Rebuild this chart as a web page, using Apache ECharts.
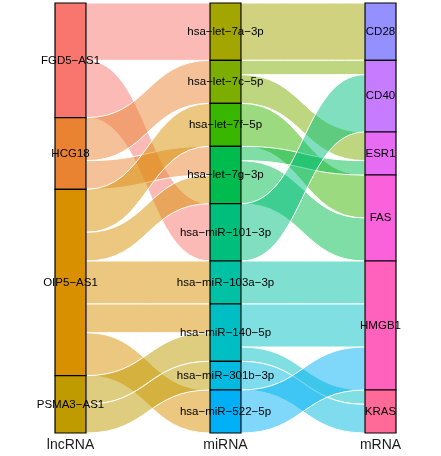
<!DOCTYPE html>
<html>
<head>
<meta charset="utf-8">
<script src="https://cdn.jsdelivr.net/npm/echarts@6/dist/echarts.min.js"></script>
<style>
html,body{margin:0;padding:0;background:#fff;}
#chart{width:441px;height:456px;}
</style>
</head>
<body>
<div id="chart"></div>
<script>
// Axis (column) names
var axisNames = ['lncRNA', 'miRNA', 'mRNA'];

// Strata per axis, top to bottom
var lncRNA = ['FGD5-AS1', 'HCG18', 'OIP5-AS1', 'PSMA3-AS1'];
var miRNA = ['hsa-let-7a-3p', 'hsa-let-7c-5p', 'hsa-let-7f-5p', 'hsa-let-7g-3p',
             'hsa-miR-101-3p', 'hsa-miR-103a-3p', 'hsa-miR-140-5p', 'hsa-miR-301b-3p', 'hsa-miR-522-5p'];
var mRNA = ['CD28', 'CD40', 'ESR1', 'FAS', 'HMGB1', 'KRAS'];

// Flows lncRNA -> miRNA : [source, target, count]
var lncToMiFlows = [
  ['FGD5-AS1', 'hsa-let-7a-3p', 4],
  ['FGD5-AS1', 'hsa-miR-101-3p', 4],
  ['HCG18', 'hsa-let-7c-5p', 3],
  ['HCG18', 'hsa-let-7g-3p', 2],
  ['OIP5-AS1', 'hsa-let-7f-5p', 3],
  ['OIP5-AS1', 'hsa-let-7g-3p', 2],
  ['OIP5-AS1', 'hsa-miR-103a-3p', 3],
  ['OIP5-AS1', 'hsa-miR-140-5p', 2],
  ['OIP5-AS1', 'hsa-miR-522-5p', 3],
  ['PSMA3-AS1', 'hsa-miR-140-5p', 2],
  ['PSMA3-AS1', 'hsa-miR-301b-3p', 2]
];

// Flows miRNA -> mRNA : [source, target, count]
var miToMFlows = [
  ['hsa-let-7a-3p', 'CD28', 4],
  ['hsa-let-7c-5p', 'CD40', 1],
  ['hsa-let-7c-5p', 'ESR1', 2],
  ['hsa-let-7f-5p', 'FAS', 3],
  ['hsa-let-7g-3p', 'ESR1', 1],
  ['hsa-let-7g-3p', 'FAS', 3],
  ['hsa-miR-101-3p', 'CD40', 4],
  ['hsa-miR-103a-3p', 'HMGB1', 3],
  ['hsa-miR-140-5p', 'HMGB1', 3],
  ['hsa-miR-140-5p', 'KRAS', 1],
  ['hsa-miR-301b-3p', 'KRAS', 2],
  ['hsa-miR-522-5p', 'HMGB1', 3]
];

// Colour palette (ggplot hue palette, 20 levels; index 13 unused)
var palette = ["#F8766D","#EA8331","#D89000","#C09B00","#A3A500","#7CAE00","#39B600","#00BB4E",
  "#00BF7D","#00C1A3","#00BFC4","#00BAE0","#00B0F6","#35A2FF","#9590FF","#C77CFF","#E76BF3",
  "#FA62DB","#FF62BC","#FF6A98"];

var colorOf = {};
lncRNA.forEach(function (n, i) { colorOf[n] = palette[i]; });
miRNA.forEach(function (n, i) { colorOf[n] = palette[4 + i]; });
mRNA.forEach(function (n, i) { colorOf[n] = palette[14 + i]; });

function rgba(hex, a) {
  var r = parseInt(hex.slice(1, 3), 16), g = parseInt(hex.slice(3, 5), 16), b = parseInt(hex.slice(5, 7), 16);
  return 'rgba(' + r + ',' + g + ',' + b + ',' + a + ')';
}

var nodes = [];
lncRNA.concat(miRNA).concat(mRNA).forEach(function (n) {
  nodes.push({ name: n, itemStyle: { color: colorOf[n] } });
});

var links = [];
lncToMiFlows.concat(miToMFlows).forEach(function (f) {
  links.push({
    source: f[0], target: f[1], value: f[2],
    lineStyle: { color: rgba(colorOf[f[0]], 0.5), opacity: 1, borderColor: '#ffffff', borderWidth: 1 }
  });
});

var chart = echarts.init(document.getElementById('chart'), null, { renderer: 'canvas' });
chart.setOption({
  animation: false,
  backgroundColor: '#ffffff',
  grid: { left: 70.5, right: 60.5, top: 3, bottom: 23 },
  xAxis: {
    type: 'category', data: axisNames, boundaryGap: false,
    axisLine: { show: false }, axisTick: { show: false }, splitLine: { show: false },
    axisLabel: { color: '#1a1a1a', fontSize: 14, margin: 5, fontFamily: 'Liberation Sans, Arial, sans-serif' }
  },
  yAxis: { type: 'value', show: false },
  series: [{
    type: 'sankey',
    left: 55, top: 3, width: 341, height: 430,
    nodeWidth: 31, nodeGap: 0, layoutIterations: 0,
    draggable: false,
    emphasis: { disabled: true },
    data: nodes,
    links: links,
    itemStyle: { borderColor: '#000', borderWidth: 1.2, opacity: 1 },
    lineStyle: { curveness: 0.5 },
    label: {
      position: 'inside', color: '#000', fontSize: 11.5,
      fontFamily: 'Liberation Sans, Arial, sans-serif',
      formatter: function (p) { return p.name.replace(/-/g, '\u2212'); }
    }
  }]
});
</script>
</body>
</html>
